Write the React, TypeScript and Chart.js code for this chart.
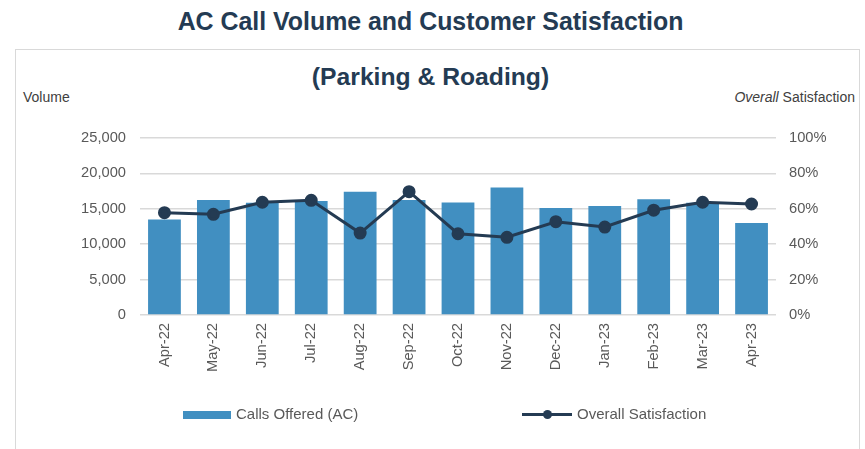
import React, { useEffect, useRef } from "react";
import { Chart, registerables } from "chart.js";

Chart.register(...registerables);

const months = ["Apr-22", "May-22", "Jun-22", "Jul-22", "Aug-22", "Sep-22", "Oct-22", "Nov-22", "Dec-22", "Jan-23", "Feb-23", "Mar-23", "Apr-23"];
const callsOffered = [13500, 16250, 15850, 16100, 17400, 16250, 15900, 18000, 15100, 15400, 16350, 15850, 13000];
const overallSatisfaction = [0.578, 0.569, 0.637, 0.648, 0.463, 0.697, 0.459, 0.439, 0.527, 0.497, 0.592, 0.637, 0.627];

const BAR = "#418fc1";
const LINE = "#243b53";
const FONT = "'Liberation Sans', Arial, sans-serif";
const TICK = "#595959";

export default function App() {
  const ref = useRef<HTMLCanvasElement | null>(null);

  useEffect(() => {
    if (!ref.current) return;
    const chart = new Chart(ref.current, {
      type: "bar",
      data: {
        labels: months,
        datasets: [
          {
            type: "line",
            label: "Overall Satisfaction",
            data: overallSatisfaction,
            yAxisID: "y1",
            borderColor: LINE,
            backgroundColor: LINE,
            borderWidth: 3,
            pointRadius: 5,
            pointBackgroundColor: LINE,
            pointBorderColor: LINE,
            tension: 0,
            order: 0,
          },
          {
            type: "bar",
            label: "Calls Offered (AC)",
            data: callsOffered,
            yAxisID: "y",
            backgroundColor: BAR,
            borderWidth: 0,
            categoryPercentage: 1,
            barPercentage: 0.67,
            order: 1,
          },
        ] as any,
      },
      options: {
        responsive: true,
        maintainAspectRatio: false,
        animation: false,
        layout: { padding: { left: 0, right: 0, top: 88, bottom: 74 } },
        plugins: {
          legend: { display: false },
          title: { display: false },
          tooltip: { enabled: false },
        },
        scales: {
          x: {
            grid: { display: false, drawTicks: false },
            border: { display: false },
            ticks: {
              color: TICK,
              font: { family: FONT, size: 14.7 },
              maxRotation: 90,
              minRotation: 90,
              padding: 8,
              autoSkip: false,
            },
            afterFit: (s: any) => {
              s.height = 60;
            },
          },
          y: {
            position: "left",
            min: 0,
            max: 25000,
            grid: { color: "#d9d9d9", lineWidth: 1.5, drawTicks: false },
            border: { display: false },
            ticks: {
              stepSize: 5000,
              color: TICK,
              font: { family: FONT, size: 14.7 },
              padding: 14,
              callback: (v: any) => Number(v).toLocaleString("en-US"),
            },
            afterFit: (s: any) => {
              s.width = 124;
            },
          },
          y1: {
            position: "right",
            min: 0,
            max: 1,
            grid: { display: false, drawTicks: false },
            border: { display: false },
            ticks: {
              stepSize: 0.2,
              color: TICK,
              font: { family: FONT, size: 14.7 },
              padding: 13,
              callback: (v: any) => Math.round(Number(v) * 100) + "%",
            },
            afterFit: (s: any) => {
              s.width = 85;
            },
          },
        },
      },
    });
    return () => chart.destroy();
  }, []);

  return (
    <div style={{ position: "absolute", left: 0, top: 0, width: 865, height: 449, overflow: "hidden", background: "#fff", fontFamily: FONT }}>
      <div style={{ position: "absolute", left: 0, width: 861, top: 6, textAlign: "center", fontWeight: "bold", fontSize: 24.9, lineHeight: "30px", color: LINE, whiteSpace: "nowrap" }}>
        AC Call Volume and Customer Satisfaction
      </div>
      <div style={{ position: "absolute", left: 15, top: 49, width: 845, height: 420, border: "1.5px solid #d9d9d9", boxSizing: "border-box" }} />
      <div style={{ position: "absolute", left: 0, width: 861, top: 62, textAlign: "center", fontWeight: "bold", fontSize: 24.7, lineHeight: "30px", color: LINE, whiteSpace: "nowrap" }}>
        (Parking &amp; Roading)
      </div>
      <div style={{ position: "absolute", left: 23, top: 89, fontSize: 14, lineHeight: "16px", color: "#404040", whiteSpace: "nowrap" }}>Volume</div>
      <div style={{ position: "absolute", right: 10, top: 89, fontSize: 14, lineHeight: "16px", color: "#404040", whiteSpace: "nowrap", textAlign: "right" }}>
        <i>Overall</i> Satisfaction
      </div>
      <div style={{ position: "absolute", left: 16, top: 50, width: 845, height: 399 }}>
        <canvas ref={ref} />
      </div>
      <div style={{ position: "absolute", left: 183, top: 411, width: 48, height: 8, background: BAR }} />
      <div style={{ position: "absolute", left: 236, top: 405, fontSize: 15, lineHeight: "18px", color: TICK, whiteSpace: "nowrap" }}>Calls Offered (AC)</div>
      <div style={{ position: "absolute", left: 522, top: 413, width: 50, height: 3, background: LINE }} />
      <div style={{ position: "absolute", left: 543, top: 410, width: 9, height: 9, borderRadius: "50%", background: LINE }} />
      <div style={{ position: "absolute", left: 577, top: 405, fontSize: 15, lineHeight: "18px", color: TICK, whiteSpace: "nowrap" }}>Overall Satisfaction</div>
    </div>
  );
}
